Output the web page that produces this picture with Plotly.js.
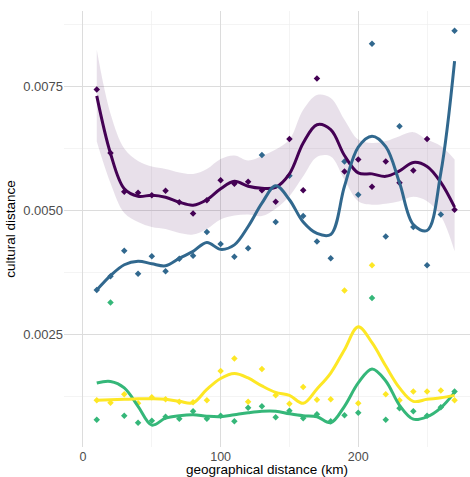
<!DOCTYPE html>
<html>
<head>
<meta charset="utf-8">
<script src="https://cdn.plot.ly/plotly-3.0.1.min.js"></script>
<style>html,body{margin:0;padding:0;background:#fff;}#chart{width:470px;height:477px;}</style>
</head>
<body>
<div id="chart"></div>
<script>
// geographical distance (km) of each bin
const distance = [10,20,30,40,50,60,70,80,90,100,110,120,130,140,150,160,170,180,190,200,210,220,230,240,250,260,270];

// observed cultural distances (points)
const purplePts = [0.00744,0.00616,0.00538,0.00536,0.00531,0.00540,0.00517,0.00494,0.00521,0.00561,0.00554,0.00558,0.00541,0.00518,0.00644,0.00541,0.00766,null,0.00579,0.00603,0.00548,0.00599,0.00556,0.00581,0.00644,null,0.00502];
const bluePts   = [0.00340,0.00368,0.00419,0.00373,0.00408,0.00378,0.00403,0.00409,0.00457,0.00433,0.00407,0.00424,0.00612,0.00477,0.00570,0.00489,0.00438,0.00404,0.00599,0.00532,0.00836,0.00448,0.00670,0.00467,0.00390,0.00492,0.00862];
const greenPts  = [0.00079,0.00315,0.00087,0.00073,0.00077,0.00085,0.00081,0.00096,0.00081,0.00087,0.00076,0.00103,0.00106,0.00084,0.00097,0.00082,0.00090,0.00076,0.00088,0.00093,0.00324,0.00079,0.00102,0.00096,0.00087,0.00104,0.00136];
const yellowPts = [0.00118,0.00113,0.00130,0.00112,0.00124,0.00120,0.00115,0.00114,0.00118,0.00177,0.00202,0.00115,0.00181,0.00128,0.00111,0.00145,0.00119,0.00120,0.00339,0.00112,0.00390,0.00130,0.00118,0.00136,0.00136,0.00138,0.00118];

// smoothed fits
const purpleFit = [0.00731,0.00615,0.00544,0.00529,0.00531,0.00527,0.00517,0.00511,0.00522,0.00544,0.00559,0.00549,0.00545,0.00547,0.00574,0.00636,0.00673,0.00663,0.00611,0.00576,0.00574,0.00569,0.00580,0.00597,0.00589,0.00557,0.00507];
const purpleUpper = [0.00824,0.00695,0.00625,0.00600,0.00589,0.00584,0.00577,0.00574,0.00584,0.00604,0.00611,0.00601,0.00610,0.00623,0.00643,0.00703,0.00733,0.00727,0.00683,0.00643,0.00636,0.00640,0.00650,0.00658,0.00643,0.00630,0.00603];
const purpleLower = [0.00639,0.00555,0.00495,0.00477,0.00467,0.00463,0.00455,0.00452,0.00463,0.00482,0.00490,0.00492,0.00489,0.00504,0.00529,0.00569,0.00608,0.00609,0.00562,0.00519,0.00512,0.00514,0.00519,0.00528,0.00519,0.00489,0.00418];
const blueFit   = [0.00340,0.00369,0.00391,0.00398,0.00393,0.00389,0.00404,0.00418,0.00436,0.00422,0.00431,0.00468,0.00515,0.00550,0.00522,0.00477,0.00454,0.00452,0.00549,0.00628,0.00650,0.00629,0.00556,0.00472,0.00460,0.00576,0.00801];
const greenFit  = [0.00153,0.00156,0.00143,0.00106,0.00068,0.00082,0.00087,0.00089,0.00086,0.00085,0.00089,0.00093,0.00096,0.00096,0.00091,0.00087,0.00085,0.00073,0.00106,0.00153,0.00181,0.00157,0.00108,0.00080,0.00085,0.00103,0.00134];
const yellowFit = [0.00118,0.00119,0.00120,0.00121,0.00121,0.00120,0.00116,0.00113,0.00140,0.00162,0.00172,0.00163,0.00147,0.00134,0.00128,0.00112,0.00141,0.00173,0.00220,0.00266,0.00234,0.00187,0.00143,0.00116,0.00120,0.00123,0.00128];

const xTicks = [0,100,200];
const yTicks = [0.0025,0.0050,0.0075];
const yTickLabels = ['0.0025','0.0050','0.0075'];

const cPurple = '#440154', cBlue = '#31688E', cGreen = '#35B779', cYellow = '#FDE725';

function pts(y, c){
  return {x: distance, y: y, mode: 'markers', type: 'scatter', hoverinfo: 'skip',
          marker: {symbol: 'diamond', size: 5, color: c, line: {width: 0}}};
}
function fit(y, c){
  return {x: distance, y: y, mode: 'lines', type: 'scatter', hoverinfo: 'skip',
          line: {color: c, width: 3, shape: 'spline', smoothing: 1}};
}

const traces = [
  {x: distance, y: purpleLower, mode: 'lines', type: 'scatter', line: {width: 0, shape: 'spline', smoothing: 1}, hoverinfo: 'skip'},
  {x: distance, y: purpleUpper, mode: 'lines', type: 'scatter', line: {width: 0, shape: 'spline', smoothing: 1}, fill: 'tonexty', fillcolor: 'rgba(68,1,84,0.12)', hoverinfo: 'skip'},
  pts(purplePts, cPurple), pts(bluePts, cBlue), pts(greenPts, cGreen), pts(yellowPts, cYellow),
  fit(purpleFit, cPurple), fit(blueFit, cBlue), fit(greenFit, cGreen), fit(yellowFit, cYellow)
];

const font = 'Liberation Sans, Arial, sans-serif';
const layout = {
  width: 470, height: 477,
  margin: {l: 64, r: 0, t: 11, b: 30},
  paper_bgcolor: '#ffffff', plot_bgcolor: '#ffffff',
  showlegend: false,
  font: {family: font, color: '#4d4d4d'},
  xaxis: {
    range: [-13.8, 281.2], tickvals: xTicks, ticktext: xTicks.map(String),
    showgrid: true, gridcolor: '#dcdcdc', gridwidth: 1, zeroline: false, showline: false,
    ticks: '', tickfont: {size: 12.5, color: '#4d4d4d', family: font},
    minor: {tickvals: [50,150,250], showgrid: true, gridcolor: '#ececec', gridwidth: 0.6, ticks: ''},
    title: {text: 'geographical distance (km)', font: {size: 13.5, color: '#000000', family: font}, standoff: 2},
    automargin: false
  },
  yaxis: {
    range: [0.00024, 0.00902], tickvals: yTicks, ticktext: yTickLabels,
    showgrid: true, gridcolor: '#dcdcdc', gridwidth: 1, zeroline: false, showline: false,
    ticks: '', tickfont: {size: 13, color: '#4d4d4d', family: font},
    minor: {tickvals: [0.00125,0.00375,0.00625,0.00875], showgrid: true, gridcolor: '#ececec', gridwidth: 0.6, ticks: ''},
    title: {text: 'cultural distance', font: {size: 13.5, color: '#000000', family: font}, standoff: 4},
    automargin: false
  }
};

Plotly.newPlot('chart', traces, layout, {staticPlot: true, displayModeBar: false});
</script>
</body>
</html>
